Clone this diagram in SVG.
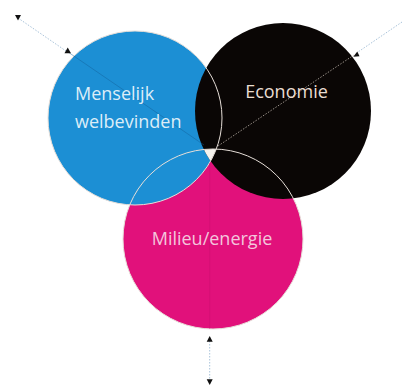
<svg xmlns="http://www.w3.org/2000/svg" width="402" height="385" viewBox="0 0 402 385">
  <style>
    .label { font-family: "Open Sans", "Noto Sans", "Liberation Sans", sans-serif; font-size: 18px; }
    .ring { fill: none; stroke: #e6ded8; stroke-width: 1; }
    .axis-out { stroke: #a9c3da; stroke-width: 1; stroke-dasharray: 1.5 1.5; fill: none; }
    .head { fill: #111; }
  </style>
  <defs>
    <clipPath id="clipBlue"><circle cx="135" cy="118" r="87"/></clipPath>
    <clipPath id="clipBlack"><circle cx="283" cy="111" r="88"/></clipPath>
  </defs>
  <rect width="402" height="385" fill="#fff"/>

  <!-- environment / energy -->
  <g id="milieu">
    <circle cx="213" cy="239" r="90" fill="#e1117b"/>
  </g>
  <!-- human well-being -->
  <g id="welbevinden">
    <circle cx="135" cy="118" r="87" fill="#1c8fd4"/>
  </g>
  <!-- economy -->
  <g id="economie">
    <circle cx="283" cy="111" r="88" fill="#0a0605"/>
  </g>
  <!-- shared core of all three -->
  <g id="kern" clip-path="url(#clipBlue)">
    <g clip-path="url(#clipBlack)">
      <circle cx="213" cy="239" r="90" fill="#f6f3ee"/>
    </g>
  </g>
  <!-- thin outlines where circles overlap -->
  <g id="outlines">
    <circle class="ring" cx="135" cy="118" r="87"/>
    <circle class="ring" cx="213" cy="239" r="90"/>
  </g>

  <!-- axes from the core outward -->
  <g id="connectors">
    <line class="axis-out" x1="18" y1="18" x2="66" y2="51"/>
    <line x1="68" y1="52" x2="204" y2="145" stroke="#12609a" stroke-width="1" opacity="0.45"/>
    <line class="axis-out" x1="402" y1="22" x2="358" y2="52"/>
    <line x1="354" y1="55" x2="218" y2="146" stroke="#c9bfb5" stroke-width="1" stroke-dasharray="1.5 1.5" opacity="0.75"/>
    <line x1="209.7" y1="163" x2="209.7" y2="329" stroke="#c40c6a" stroke-width="1" opacity="0.35"/>
    <line class="axis-out" x1="209.7" y1="341" x2="209.7" y2="380"/>
    <polygon class="head" points="15,15 21,15 18,20.5"/>
    <polygon class="head" points="64.5,53.3 71,53.3 67.7,47.5"/>
    <polygon class="head" points="353.3,56.8 359.5,56.3 357.3,51.5"/>
    <polygon class="head" points="206.7,341.7 212.7,341.7 209.7,336"/>
    <polygon class="head" points="206.7,379.3 212.7,379.3 209.7,385"/>
  </g>

  <text class="label" x="75" y="100" fill="#dcedf8">Menselijk</text>
  <text class="label" x="75" y="128" fill="#dcedf8">welbevinden</text>
  <text class="label" x="286.5" y="98" fill="#e9ddd2" text-anchor="middle">Economie</text>
  <text class="label" x="212" y="245" fill="#f3c6dc" text-anchor="middle">Milieu/energie</text>
</svg>
